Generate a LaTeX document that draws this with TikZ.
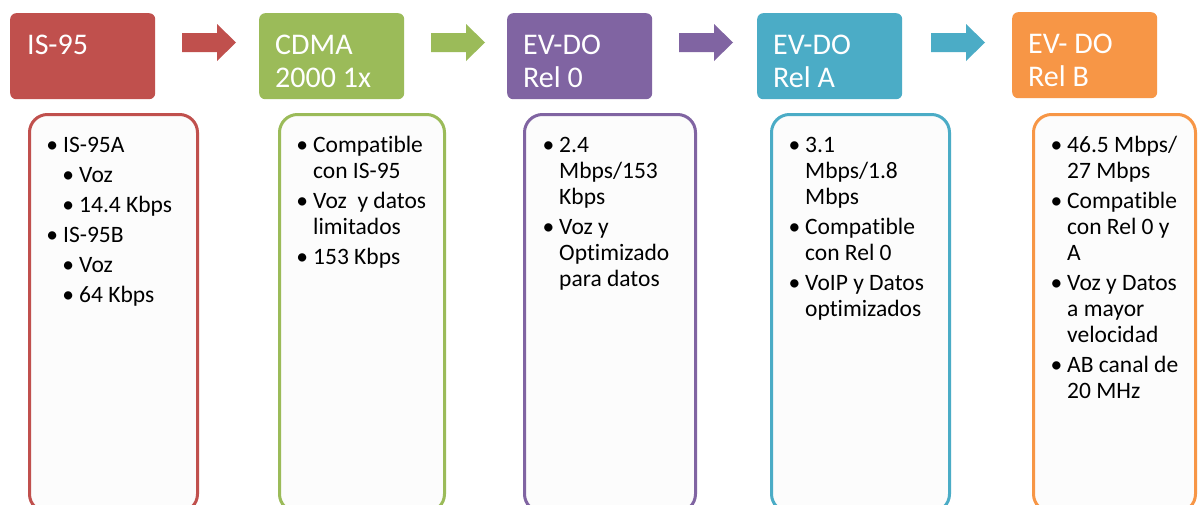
\documentclass[tikz,border=0pt]{standalone}
\usepackage{fontspec}
\setmainfont{Carlito}[Ligatures=NoCommon]
\definecolor{cRed}{HTML}{C0504D}
\definecolor{cGreen}{HTML}{9BBB59}
\definecolor{cPurple}{HTML}{8064A2}
\definecolor{cTeal}{HTML}{4BACC6}
\definecolor{cOrange}{HTML}{F79646}
\definecolor{panel}{HTML}{FCFCFC}
\newcommand\itm[1]{\parbox[t]{200pt}{\raggedright\leavevmode\llap{•\hspace{5pt}}#1}}
\newcommand\ttl[1]{\parbox[t]{140pt}{\raggedright #1}}
\tikzset{
  hdr/.style={draw=none, rounded corners=6pt, anchor=north west,
    minimum width=145pt, minimum height=86pt, inner sep=0pt},
  htxt/.style={anchor=base west, inner sep=0pt, text=white,
    font=\fontsize{30}{33}\selectfont},
  panelbox/.style={line width=3pt, rounded corners=18pt, fill=panel},
  btxt/.style={anchor=base west, inner sep=0pt, text=black,
    font=\fontsize{23.5}{26}\selectfont},
}
% block arrow: start x, colour
\newcommand\blockarrow[2]{%
  \fill[#2] (#1,33) -- ++(35,0) -- ++(0,-9) -- ++(19,18.5) -- ++(-19,18.5)
    -- ++(0,-9) -- ++(-35,0) -- cycle;}
\begin{document}
\begin{tikzpicture}[x=1pt, y=-1pt]
\useasboundingbox (0,0) rectangle (1200,504);
\fill[white] (0,0) rectangle (1200,504);

% header boxes
\node[hdr, fill=cRed]    (h1) at (10,13)   {};
\node[hdr, fill=cGreen]  (h2) at (259,13)  {};
\node[hdr, fill=cPurple] (h3) at (507,13)  {};
\node[hdr, fill=cTeal]   (h4) at (757,13)  {};
\node[hdr, fill=cOrange] (h5) at (1012,12) {};

\node[htxt] (t1) at (27,54)   {\ttl{IS-95}};
\node[htxt] (t2) at (275,54)  {\ttl{CDMA\\2000 1x}};
\node[htxt] (t3) at (523,54)  {\ttl{EV-DO\\Rel 0}};
\node[htxt] (t4) at (773,54)  {\ttl{EV-DO\\Rel A}};
\node[htxt] (t5) at (1028,53) {\ttl{EV- DO\\Rel B}};

% arrows between stages
\blockarrow{182}{cRed}
\blockarrow{431}{cGreen}
\blockarrow{679}{cPurple}
\blockarrow{931}{cTeal}

% detail panels
\draw[panelbox, draw=cRed]    (29.5,114.5)  rectangle (197.5,512);
\draw[panelbox, draw=cGreen]  (279.5,114.5) rectangle (444.5,512);
\draw[panelbox, draw=cPurple] (524.5,114.5) rectangle (695.5,512);
\draw[panelbox, draw=cTeal]   (771.5,114.5) rectangle (949.5,512);
\draw[panelbox, draw=cOrange] (1033.5,114.5) rectangle (1195.5,512);

% IS-95
\node[btxt] (a1) at (63,152) {\itm{IS-95A}};
\node[btxt] (a2) at (79,182) {\itm{Voz}};
\node[btxt] (a3) at (79,212) {\itm{14.4 Kbps}};
\node[btxt] (a4) at (63,242) {\itm{IS-95B}};
\node[btxt] (a5) at (79,272) {\itm{Voz}};
\node[btxt] (a6) at (79,302) {\itm{64 Kbps}};

% CDMA 2000 1x
\node[btxt] (b1) at (313,152) {\itm{Compatible\\con IS-95}};
\node[btxt] (b2) at (313,208) {\itm{Voz\ \ y datos\\limitados}};
\node[btxt] (b3) at (313,264) {\itm{153 Kbps}};

% EV-DO Rel 0
\node[btxt] (c1) at (559,152) {\itm{2.4\\Mbps/153\\Kbps}};
\node[btxt] (c2) at (559,234) {\itm{Voz y\\Optimizado\\para datos}};

% EV-DO Rel A
\node[btxt] (d1) at (805,152) {\itm{3.1\\Mbps/1.8\\Mbps}};
\node[btxt] (d2) at (805,234) {\itm{Compatible\\con Rel 0}};
\node[btxt] (d3) at (805,290) {\itm{VoIP y Datos\\optimizados}};

% EV-DO Rel B
\node[btxt] (e1) at (1067,152) {\itm{46.5 Mbps/\\27 Mbps}};
\node[btxt] (e2) at (1067,208) {\itm{Compatible\\con Rel 0 y\\A}};
\node[btxt] (e3) at (1067,290) {\itm{Voz y Datos\\a mayor\\velocidad}};
\node[btxt] (e4) at (1067,372) {\itm{AB canal de\\20 MHz}};
\end{tikzpicture}
\end{document}
